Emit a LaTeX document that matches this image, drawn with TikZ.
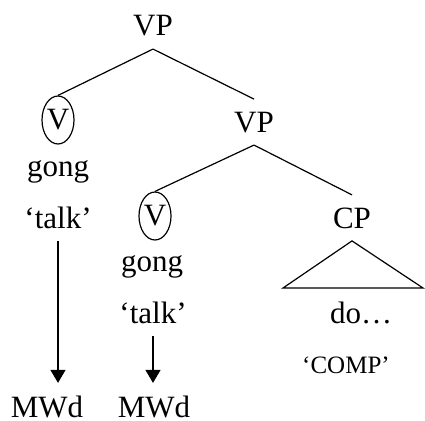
\documentclass[tikz,border=0pt]{standalone}
\usepackage{fontspec}
\setmainfont{Liberation Serif}
\usetikzlibrary{shapes.geometric,arrows.meta}

\begin{document}
\begin{tikzpicture}[x=1pt, y=-1pt, line width=1.2pt,
    every node/.style={font=\fontsize{31}{37}\selectfont, inner xsep=2pt, inner ysep=12pt, anchor=base},
    head/.style={ellipse, draw, inner sep=0pt, minimum width=32pt, minimum height=48pt, anchor=center},
    gloss/.style={font=\fontsize{25}{30}\selectfont},
    leaf/.style={inner ysep=0pt},
    move/.style={-{Triangle[length=13pt,width=15pt]}, shorten >=12pt}]
                    \useasboundingbox (0,0) rectangle (425,420);

                    \node (vp1) at (153,36) {VP};
                    \node[head] (v1) at (58,120) {V};
                    \node (gong1) at (58,176) {gong};
                    \node (talk1) at (58,228) {`talk'};

                    \node (vp2) at (254,132) {VP};
                    \node[head] (v2) at (155,216) {V};
                    \node (gong2) at (152,271) {gong};
                    \node (talk2) at (153,323) {`talk'};

                    \node (cp) at (352,228) {CP};
                    \node (do) at (361,323) {do\ldots};
                    \node[gloss] (comp) at (346,373) {`COMP'};

                    \node[leaf] (mwd1) at (47,417) {MWd};
                    \node[leaf] (mwd2) at (154,417) {MWd};

                    \draw (vp1.south) -- (v1.north);
                    \draw (vp1.south) -- (vp2.north);
                    \draw (vp2.south) -- (v2.north);
                    \draw (vp2.south) -- (cp.north);

                    \coordinate (tl) at (283,288);
                    \coordinate (tr) at (423,288);
                    \draw (cp.south) -- (tl) -- (tr) -- cycle;

                    \foreach \i in {1,2} {
                        \draw[move] (talk\i.south) -- (talk\i.south |- mwd\i.north);
                    }
                \end{tikzpicture}
\end{document}
